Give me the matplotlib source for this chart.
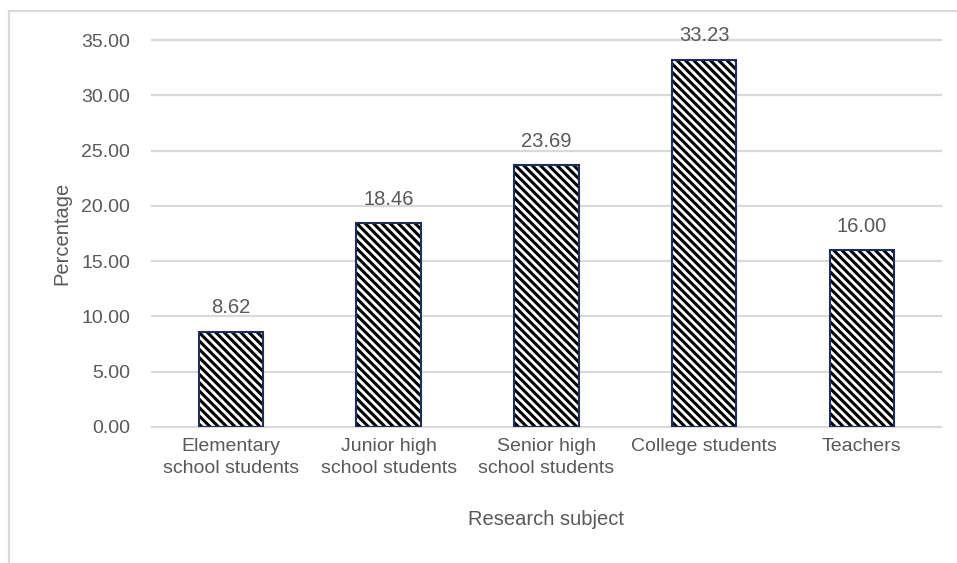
import matplotlib.pyplot as plt
from matplotlib.patches import Rectangle

categories = [
    "Elementary\nschool students",
    "Junior high\nschool students",
    "Senior high\nschool students",
    "College students",
    "Teachers",
]
percentages = [8.62, 18.46, 23.69, 33.23, 16.00]
y_ticks = [0, 5, 10, 15, 20, 25, 30, 35]

grey_text = "#595959"
plt.rcParams["font.family"] = ["Liberation Sans", "DejaVu Sans"]
plt.rcParams["hatch.linewidth"] = 2.2

fig = plt.figure(figsize=(9.57, 5.63), dpi=100)
ax = fig.add_axes([0.159, 0.2416, 0.824, 0.687])

# light grey frame around the chart area (only top and left visible)
fig.add_artist(Rectangle((9 / 957, -0.5), 2.0, 0.5 + (563 - 11) / 563,
                         transform=fig.transFigure, fill=False,
                         edgecolor="#d9d9d9", linewidth=1.6))

x = range(len(categories))
# hatch fill in black, outline in dark navy
ax.bar(x, percentages, width=0.41, color="white", edgecolor="black",
       linewidth=0, hatch="\\\\\\\\", zorder=3)
ax.bar(x, percentages, width=0.41, fill=False, edgecolor="#1f2d5c",
       linewidth=1.5, zorder=4)

for xi, v in zip(x, percentages):
    ax.text(xi, v + 1.3, f"{v:.2f}", ha="center", va="bottom",
            fontsize=14.5, color=grey_text)

ax.set_xlim(-0.5, len(categories) - 0.5)
ax.set_ylim(0, 35)
ax.set_yticks(y_ticks)
ax.set_yticklabels([f"{t:.2f}" for t in y_ticks])
ax.set_xticks(list(x))
ax.set_xticklabels(categories, linespacing=1.35)
ax.tick_params(axis="both", length=0, labelsize=14, labelcolor=grey_text)
ax.tick_params(axis="y", pad=16)
ax.tick_params(axis="x", pad=8)

ax.grid(axis="y", color="#d9d9d9", linewidth=1.6, zorder=0)
for gl in ax.get_ygridlines():
    gl.set_clip_on(False)
for s in ax.spines.values():
    s.set_visible(False)

ax.set_ylabel("Percentage", fontsize=14.5, color=grey_text)
ax.yaxis.set_label_coords(-0.115, 0.5)
ax.set_xlabel("Research subject", fontsize=14.5, color=grey_text)
ax.xaxis.set_label_coords(0.5, -0.24)
ax.xaxis.label.set_va("center")
ax.yaxis.label.set_va("center")

fig.savefig("out.png", dpi=100)
